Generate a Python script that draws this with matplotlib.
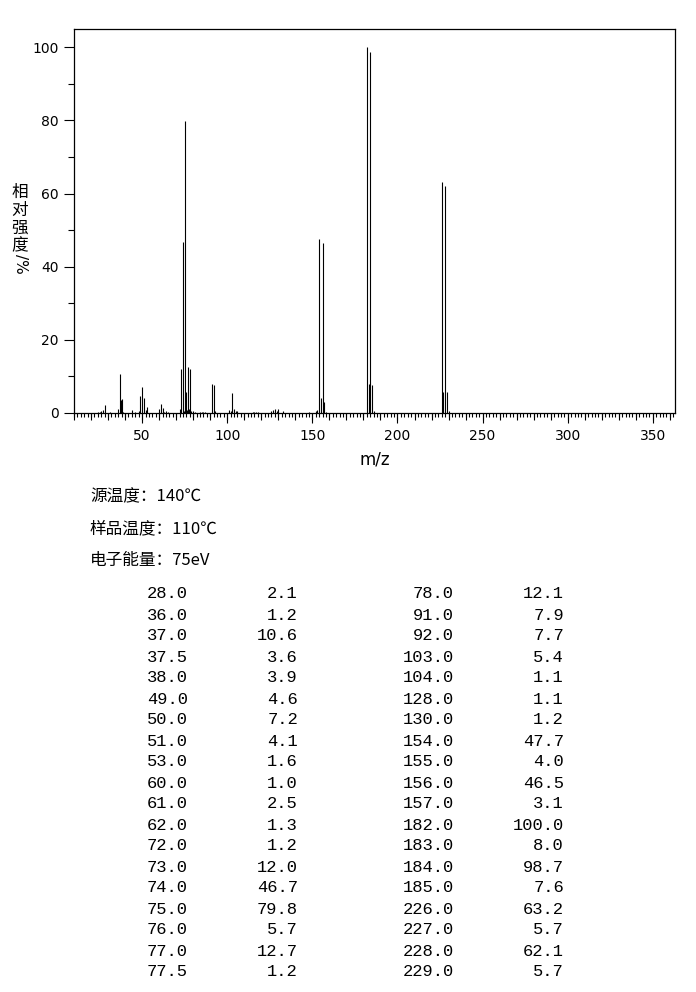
import numpy as np
import matplotlib
matplotlib.use('Agg')
import matplotlib.pyplot as plt
from matplotlib.ticker import MultipleLocator

plt.rcParams['font.family'] = ['DejaVu Sans', 'Noto Sans CJK SC']

# peak list (m/z, relative intensity %)
mz = [28.0, 36.0, 37.0, 37.5, 38.0, 49.0, 50.0, 51.0, 53.0, 60.0, 61.0, 62.0,
      72.0, 73.0, 74.0, 75.0, 76.0, 77.0, 77.5,
      78.0, 91.0, 92.0, 103.0, 104.0, 128.0, 130.0, 154.0, 155.0, 156.0, 157.0,
      182.0, 183.0, 184.0, 185.0, 226.0, 227.0, 228.0, 229.0]
intensity = [2.1, 1.2, 10.6, 3.6, 3.9, 4.6, 7.2, 4.1, 1.6, 1.0, 2.5, 1.3,
             1.2, 12.0, 46.7, 79.8, 5.7, 12.7, 1.2,
             12.1, 7.9, 7.7, 5.4, 1.1, 1.1, 1.2, 47.7, 4.0, 46.5, 3.1,
             100.0, 8.0, 98.7, 7.6, 63.2, 5.7, 62.1, 5.7]

# small peaks below 1 % (only in the plot, not listed)
mz_small = [24.0, 25.0, 26.0, 27.0, 31.0, 39.0, 44.0, 46.0, 48.0, 52.0, 63.0,
            64.0, 65.0, 74.5, 76.5, 79.0, 80.0, 81.0, 84.0, 85.0, 86.0, 87.0,
            93.0, 101.0, 102.0, 105.0, 106.0, 115.0, 116.0, 117.0, 118.0,
            126.0, 127.0, 129.0, 133.0, 148.0, 152.0, 153.0, 158.0, 186.0, 230.0]
int_small = [0.3, 0.4, 0.6, 0.7, 0.3, 0.4, 0.8, 0.3, 0.5, 0.9, 0.4,
             0.5, 0.4, 0.6, 0.8, 0.5, 0.6, 0.4, 0.4, 0.3, 0.4, 0.3,
             0.5, 0.8, 0.5, 0.6, 0.6, 0.3, 0.3, 0.3, 0.3,
             0.5, 0.9, 0.6, 0.5, 0.3, 0.5, 0.9, 0.4, 0.5, 0.5]

header = ['源温度：140℃', '样品温度：110℃', '电子能量：75eV']

fig = plt.figure(figsize=(6.96, 9.92), dpi=100)
W, H = 696, 992
ax = fig.add_axes([74 / W, 1 - 413 / H, (675 - 74) / W, (413 - 29) / H])

ax.vlines(mz, 0, intensity, color='black', linewidth=0.8)
ax.vlines(mz_small, 0, int_small, color='black', linewidth=0.8)

ax.set_xlim(10, 363)
ax.set_ylim(0, 105)
ax.xaxis.set_major_locator(MultipleLocator(50))
ax.xaxis.set_minor_locator(MultipleLocator(2))
ax.yaxis.set_major_locator(MultipleLocator(20))
ax.yaxis.set_minor_locator(MultipleLocator(10))
ax.tick_params(axis='both', which='major', length=7.2, width=0.8, labelsize=10, pad=4)
ax.tick_params(axis='both', which='minor', length=4.3, width=0.8)
ax.tick_params(axis='x', which='minor', length=3.0)
for s in ax.spines.values():
    s.set_linewidth(0.9)

# extra ticks every 10 on the m/z axis
sec = ax.secondary_xaxis(0)
sec.set_xticks(np.arange(10, 361, 10))
sec.tick_params(length=5.0, width=0.8, labelbottom=False)
sec.spines['bottom'].set_visible(False)

ax.set_xlabel('m/z', fontsize=12, labelpad=6)

# y label: upright CJK characters stacked, "/%" turned clockwise
fig.text(20 / W, 1 - 219 / H, '相\n对\n强\n度', fontsize=12, ha='center', va='center',
         linespacing=1.05, family='Noto Sans CJK SC')
fig.text(20 / W, 1 - 264 / H, '/%', fontsize=11, ha='center', va='center', rotation=270)

for i, t in enumerate(header):
    fig.text(90 / W, 1 - (497 + i * 31.5) / H, t, fontsize=12, ha='left', va='center',
             family=['Noto Sans CJK SC', 'DejaVu Sans'])

half = (len(mz) + 1) // 2
for i in range(half):
    y = 1 - (594 + i * 21) / H
    fig.text(188 / W, y, f'{mz[i]:.1f}', fontsize=12.3, ha='right', va='center', family='Liberation Mono')
    fig.text(298 / W, y, f'{intensity[i]:.1f}', fontsize=12.3, ha='right', va='center', family='Liberation Mono')
    j = i + half
    if j < len(mz):
        fig.text(454 / W, y, f'{mz[j]:.1f}', fontsize=12.3, ha='right', va='center', family='Liberation Mono')
        fig.text(564 / W, y, f'{intensity[j]:.1f}', fontsize=12.3, ha='right', va='center', family='Liberation Mono')

fig.savefig('out.png', dpi=100)
